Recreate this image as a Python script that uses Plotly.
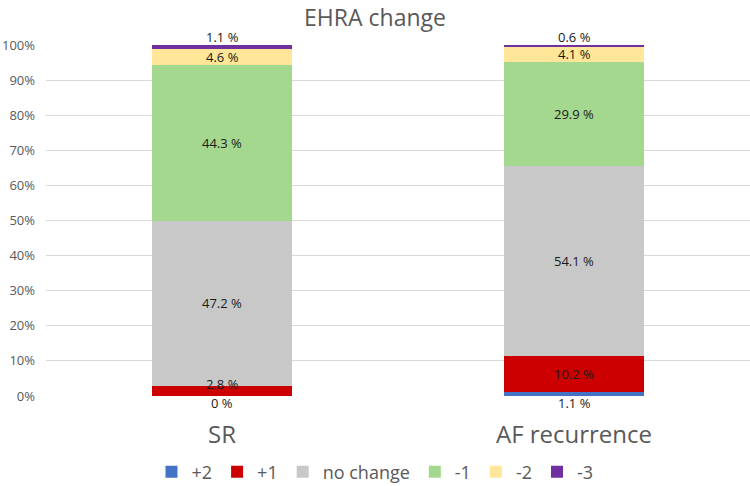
import plotly.graph_objects as go

categories = ["SR", "AF recurrence"]
series_names = ["+2", "+1", "no change", "-1", "-2", "-3"]
sr_values = [0, 2.8, 47.2, 44.3, 4.6, 1.1]
af_values = [1.1, 10.2, 54.1, 29.9, 4.1, 0.6]
sr_labels = ["0 %", "2.8 %", "47.2 %", "44.3 %", "4.6 %", "1.1 %"]
af_labels = ["1.1 %", "10.2 %", "54.1 %", "29.9 %", "4.1 %", "0.6 %"]
colors = ["#4472C4", "#CC0000", "#C8C8C8", "#A4D88E", "#FFE699", "#7030A0"]
y_ticks = list(range(0, 101, 10))
y_tick_labels = [f"{v}%" for v in y_ticks]

FONT = "Open Sans, Lato, sans-serif"

fig = go.Figure()
for i, name in enumerate(series_names):
    fig.add_trace(go.Bar(
        x=categories, y=[sr_values[i], af_values[i]], name=name,
        marker=dict(color=colors[i], line=dict(width=0)),
        width=0.4,
    ))

annotations = []
for cat, vals, labels in [(categories[0], sr_values, sr_labels), (categories[1], af_values, af_labels)]:
    cum = 0
    for i, v in enumerate(vals):
        lo, hi = cum, cum + v
        cum = hi
        if i == 0:
            y, ys = lo, -7  # below bar
        elif i == len(vals) - 1:
            y, ys = hi, 8  # above bar
        elif v < 4:
            y, ys = hi, 2
        else:
            y, ys = (lo + hi) / 2, 0
        annotations.append(dict(x=cat, y=y, yshift=ys, text=labels[i], showarrow=False,
                                font=dict(size=13, color="#1a1a1a", family=FONT),
                                xref="x", yref="y"))

fig.update_layout(
    barmode="stack",
    width=750, height=486,
    margin=dict(l=46, r=0, t=45, b=90),
    paper_bgcolor="white", plot_bgcolor="white",
    font=dict(family=FONT, color="#595959"),
    title=dict(text="EHRA change", x=0.5, xanchor="center", xref="container",
               y=1 - 18 / 486, yanchor="middle", yref="container",
               font=dict(size=23, color="#595959")),
    annotations=annotations,
    legend=dict(orientation="h", x=0.5, xanchor="center", xref="container",
                y=1 - 472 / 486, yanchor="middle", yref="container",
                font=dict(size=18, color="#595959"), traceorder="normal",
                itemwidth=30),
    showlegend=True,
)
fig.update_yaxes(range=[0, 100], tickvals=y_ticks, ticktext=y_tick_labels,
                 showgrid=True, gridcolor="#D9D9D9", gridwidth=1, zeroline=False,
                 tickfont=dict(size=13, color="#595959"), ticks="", ticklabelstandoff=10)
fig.update_xaxes(tickfont=dict(size=24, color="#595959"), showline=False, ticks="",
                 ticklabelstandoff=22)

fig.write_html("out.html", config={"displayModeBar": False},
               post_script="document.body.style.margin='0';")
